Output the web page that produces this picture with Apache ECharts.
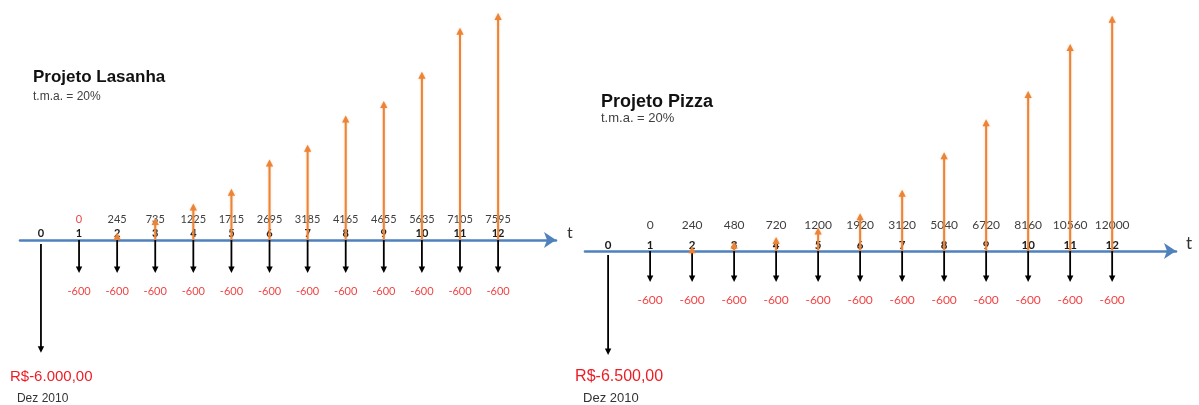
<!DOCTYPE html>
<html><head><meta charset="utf-8">
<script src="https://cdn.jsdelivr.net/npm/echarts@6/dist/echarts.min.js"></script>
<style>html,body{margin:0;padding:0;background:#fff}#c{width:1199px;height:405px}</style>
</head><body><div id="c"></div>
<script>
// ---- data ----
const periods = [0,1,2,3,4,5,6,7,8,9,10,11,12];
const inflowPeriods = [1,2,3,4,5,6,7,8,9,10,11,12];
const lasanhaInflows = [0,245,735,1225,1715,2695,3185,4165,4655,5635,7105,7595];
const lasanhaOutflows = [-6000,-600,-600,-600,-600,-600,-600,-600,-600,-600,-600,-600,-600];
const pizzaInflows = [0,240,480,720,1200,1920,3120,5040,6720,8160,10560,12000];
const pizzaOutflows = [-6500,-600,-600,-600,-600,-600,-600,-600,-600,-600,-600,-600,-600];
const projectTitles = ['Projeto Lasanha','Projeto Pizza'];
const rateLabel = 't.m.a. = 20%';
const dateLabel = 'Dez 2010';
const timeAxisName = 't';

// ---- styling / layout ----
const FONT_NUM = 'Lato, "Open Sans", sans-serif';
const FONT_TXT = '"Liberation Sans", Arial, sans-serif';
const BLUE = '#4F81BD', ORANGE = '#EB8436', RED = '#F04545', RED2 = '#EE1C24';

const panels = [
  {inflows: lasanhaInflows, outflows: lasanhaOutflows, title: projectTitles[0],
   left: 20, width: 536, upTop: 1, upH: 239, ymax: 8000, lowH: 130.4, logMin: 231, logMax: 10000,
   titleX: 33, titleY: 79, subY: 98, titleSize: 17, subSize: 12,
   valOff: 21, perOff: 7, outOff: 18, valSize: 11, perSize: 11, outSize: 11,
   zeroColor: RED, rsDx: -31, rsDy: 24, dateDx: -24, dateDy: 46, rsSize: 15, dateSize: 12,
   tSize: 16, nameGap: 11},
  {inflows: pizzaInflows, outflows: pizzaOutflows, title: projectTitles[1],
   left: 585, width: 591, upTop: 0, upH: 251, ymax: 12800, lowH: 117.2, logMin: 217.7, logMax: 10000,
   titleX: 601, titleY: 104, subY: 120, titleSize: 18, subSize: 13,
   valOff: 26, perOff: 6, outOff: 18, valSize: 12, perSize: 11.5, outSize: 12,
   zeroColor: '#404040', rsDx: -33, rsDy: 22, dateDx: -25, dateDy: 43, rsSize: 16, dateSize: 13,
   tSize: 17, nameGap: 10}
];

function brl(v) {
  const sign = v < 0 ? '-' : '';
  const a = Math.abs(v);
  const intPart = Math.floor(a).toString().replace(/\B(?=(\d{3})+(?!\d))/g, '.');
  const dec = Math.round((a - Math.floor(a)) * 100).toString().padStart(2, '0');
  return 'R$' + sign + intPart + ',' + dec;
}

const grids = [], xAxes = [], yAxes = [], series = [], graphics = [];

panels.forEach((P, i) => {
  const gUp = grids.length;
  grids.push({left: P.left, top: P.upTop, width: P.width, height: P.upH});
  grids.push({left: P.left, top: P.upTop + P.upH, width: P.width, height: P.lowH});
  xAxes.push({gridIndex: gUp, type: 'value', min: -0.55, max: 13.52,
    axisLine: {show: true, onZero: true, lineStyle: {color: BLUE, width: 2.6}, symbol: ['none','arrow'], symbolSize: [12, 12]},
    axisTick: {show: false}, axisLabel: {show: false}, splitLine: {show: false},
    name: timeAxisName, nameLocation: 'end', nameGap: P.nameGap,
    nameTextStyle: {fontSize: P.tSize, color: '#333', fontFamily: FONT_NUM, verticalAlign: 'bottom', lineHeight: 14}});
  xAxes.push({gridIndex: gUp + 1, type: 'value', min: -0.55, max: 13.52, show: false});
  yAxes.push({gridIndex: gUp, type: 'value', min: 0, max: P.ymax, show: false});
  yAxes.push({gridIndex: gUp + 1, type: 'log', min: P.logMin, max: P.logMax, inverse: true, show: false});

  // outflow arrows (down) + period labels
  series.push({
    type: 'custom', xAxisIndex: gUp + 1, yAxisIndex: gUp + 1, z: 3, clip: false,
    data: periods.map((p, k) => [p, Math.abs(P.outflows[k]), P.outflows[k]]),
    renderItem: function (params, api) {
      const p = api.value(0), mag = api.value(1), raw = api.value(2);
      const cs = params.coordSys;
      const pt = api.coord([p, mag]);
      const x = pt[0], y1 = pt[1], y0 = cs.y + (p === 0 ? 4 : 0);
      const hw = 3.2, hl = 6.5;
      const ch = [
        {type: 'line', shape: {x1: x, y1: y0, x2: x, y2: y1 - hl + 1}, style: {stroke: '#000', lineWidth: 1.8}},
        {type: 'polygon', shape: {points: [[x - hw, y1 - hl], [x + hw, y1 - hl], [x, y1]]}, style: {fill: '#000'}},
        {type: 'text', style: {text: String(p), x: x, y: cs.y - P.perOff, align: 'center', verticalAlign: 'middle',
          font: 'bold ' + P.perSize + 'px ' + FONT_NUM, fill: '#1a1a1a'}}
      ];
      if (p === 0) {
        ch.push({type: 'text', style: {text: brl(raw), x: x + P.rsDx, y: y1 + P.rsDy, align: 'left', verticalAlign: 'middle',
          font: P.rsSize + 'px ' + FONT_TXT, fill: RED2}});
        ch.push({type: 'text', style: {text: dateLabel, x: x + P.dateDx, y: y1 + P.dateDy, align: 'left', verticalAlign: 'middle',
          font: P.dateSize + 'px ' + FONT_TXT, fill: '#333'}});
      } else {
        ch.push({type: 'text', style: {text: String(raw), x: x, y: y1 + P.outOff, align: 'center', verticalAlign: 'middle',
          font: P.outSize + 'px ' + FONT_NUM, fill: RED}});
      }
      return {type: 'group', children: ch};
    }
  });

  // inflow arrows (up) + value labels
  series.push({
    type: 'custom', xAxisIndex: gUp, yAxisIndex: gUp, z: 5, clip: false,
    data: inflowPeriods.map((p, k) => [p, P.inflows[k]]),
    renderItem: function (params, api) {
      const p = api.value(0), v = api.value(1);
      const base = api.coord([p, 0]);
      const top = api.coord([p, v]);
      const x = base[0], y0 = base[1], y1 = top[1];
      const ch = [
        {type: 'text', style: {text: String(v), x: x, y: y0 - P.valOff, align: 'center', verticalAlign: 'middle',
          font: P.valSize + 'px ' + FONT_NUM, fill: v === 0 ? P.zeroColor : '#404040'}}
      ];
      if (v > 0) {
        const hw = 3.6, hl = 7;
        ch.push({type: 'line', shape: {x1: x, y1: y0, x2: x, y2: y1 + hl - 1},
          style: {stroke: ORANGE, lineWidth: 2, shadowBlur: 2, shadowColor: 'rgba(235,132,54,0.45)'}});
        ch.push({type: 'polygon', shape: {points: [[x - hw, y1 + hl], [x + hw, y1 + hl], [x, y1]]},
          style: {fill: ORANGE, shadowBlur: 2, shadowColor: 'rgba(235,132,54,0.45)'}});
      }
      return {type: 'group', children: ch};
    }
  });

  graphics.push({type: 'text', left: P.titleX, top: P.titleY - P.titleSize * 0.6, z: 10,
    style: {text: P.title, font: 'bold ' + P.titleSize + 'px ' + FONT_TXT, fill: '#111'}});
  graphics.push({type: 'text', left: P.titleX, top: P.subY - P.subSize * 0.6, z: 10,
    style: {text: rateLabel, font: P.subSize + 'px ' + FONT_TXT, fill: '#404040'}});
});

const chart = echarts.init(document.getElementById('c'), null, {renderer: 'canvas'});
chart.setOption({
  animation: false,
  backgroundColor: '#fff',
  grid: grids, xAxis: xAxes, yAxis: yAxes, series: series, graphic: graphics
});
</script>
</body></html>
